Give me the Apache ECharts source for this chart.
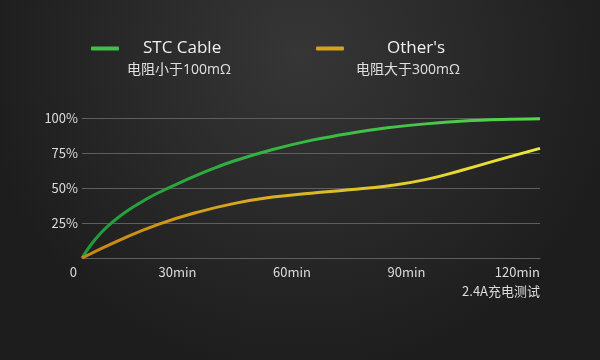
<!DOCTYPE html>
<html><head><meta charset="utf-8">
<script src="https://cdn.jsdelivr.net/npm/echarts@6/dist/echarts.min.js"></script>
<style>html,body{margin:0;padding:0;background:#262626}#c{width:600px;height:360px}</style>
</head><body><div id="c"></div>
<script>
const stcMinutes = [0,2.5,5,7.5,10,12.5,15,17.5,20,25,30,35,40,50,60,70,80,90,100,110,120];
const stcValues = [0,10,18,24.5,30,34.8,39,43,46.6,53,59,64.5,69.5,77.5,84,89,93,95.8,97.8,98.9,99.4];
const otherMinutes = [0,10,20,30,40,50,60,70,80,90,100,110,120];
const otherValues = [0,13,24,32.5,39,43.5,46.3,48.7,51.5,56,63,70.8,78.3];
const seriesNames = ['STC Cable', "Other's"];
const subtitles = ['电阻小于100mΩ', '电阻大于300mΩ'];
const xTickLabels = {0:'0',30:'30min',60:'60min',90:'90min',120:'120min'};
const yTickLabels = {25:'25%',50:'50%',75:'75%',100:'100%'};
const xNote = '2.4A充电测试';

const font = '"Noto Sans CJK SC", "Noto Sans", sans-serif';
const latinFont = '"Open Sans", "Noto Sans CJK SC", sans-serif';
const chart = echarts.init(document.getElementById('c'));
const grad = (a,b) => new echarts.graphic.LinearGradient(0,0,1,0,[{offset:0,color:a},{offset:1,color:b}]);
chart.setOption({
  backgroundColor: new echarts.graphic.RadialGradient(0.5,0.15,0.9,[{offset:0,color:'#363636'},{offset:1,color:'#1d1d1d'}]),
  animation:false,
  textStyle:{fontFamily:font},
  legend:[
    {data:[seriesNames[0]], left:86, top:35, itemWidth:28, itemHeight:4, icon:'roundRect',
     textStyle:{color:'#f0f0f0', fontSize:17, padding:[0,0,0,19], fontFamily:latinFont}},
    {data:[seriesNames[1]], left:311, top:35, itemWidth:28, itemHeight:4, icon:'roundRect',
     textStyle:{color:'#f0f0f0', fontSize:17, padding:[0,0,0,38], fontFamily:latinFont}}
  ],
  graphic:[
    {type:'text', left:127, top:63, style:{text:subtitles[0], fill:'#e0e0e0', fontSize:14, fontFamily:latinFont}},
    {type:'text', left:356, top:63, style:{text:subtitles[1], fill:'#e0e0e0', fontSize:14, fontFamily:latinFont}}
  ],
  grid:{left:82, right:60, top:118, bottom:102},
  xAxis:{type:'value', min:0, max:120, interval:30,
    axisLine:{show:true, lineStyle:{color:'#5e5e5e', width:1}},
    axisTick:{show:false}, splitLine:{show:false},
    axisLabel:{color:'#dcdcdc', fontSize:13, margin:5, align:'right', lineHeight:19, fontFamily:font,
      formatter:v => v===0 ? '{z|0}' : (v===120 ? xTickLabels[v]+'\n'+xNote : xTickLabels[v]),
      rich:{z:{padding:[0,5,0,0], fontSize:13, color:'#dcdcdc'}}}
  },
  yAxis:{type:'value', min:0, max:100, interval:25,
    axisLine:{show:false}, axisTick:{show:false},
    splitLine:{lineStyle:{color:'#5e5e5e', width:1}},
    axisLabel:{color:'#dcdcdc', fontSize:13, margin:4, fontFamily:font, formatter:v => yTickLabels[v] || ''}
  },
  series:[
    {name:seriesNames[0], type:'line', smooth:0.4, showSymbol:false,
     data:stcMinutes.map((m,i)=>[m,stcValues[i]]),
     itemStyle:{color:'#3fc247'},
     lineStyle:{width:3, color:grad('#1f9a3a','#55d84f')}},
    {name:seriesNames[1], type:'line', smooth:0.5, showSymbol:false,
     data:otherMinutes.map((m,i)=>[m,otherValues[i]]),
     itemStyle:{color:'#d9a01a'},
     lineStyle:{width:3, color:grad('#c9850f','#ecec3a')}}
  ]
});
</script></body></html>
